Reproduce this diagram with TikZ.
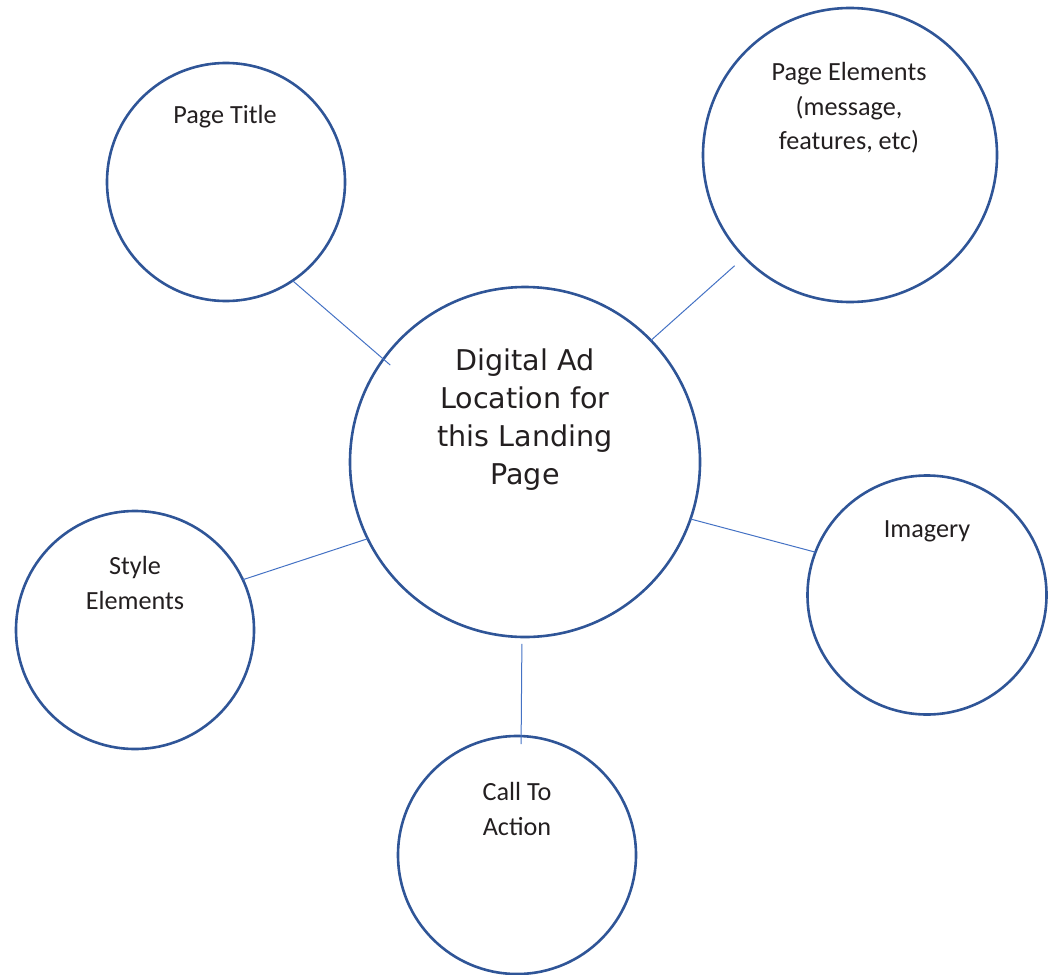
\documentclass[tikz,border=0pt]{standalone}
\usepackage{fontspec}
\setmainfont{Carlito}
\newfontfamily\dvfont{DejaVu Sans}
\definecolor{ringblue}{HTML}{2F5597}
\definecolor{linkblue}{HTML}{4472C4}
\definecolor{txtgray}{HTML}{231F20}
\begin{document}
\begin{tikzpicture}[x=1pt,y=-1pt,
  ring/.style={circle,draw=ringblue,line width=2.6pt,inner sep=0pt,outer sep=0pt,minimum size=#1},
  link/.style={draw=linkblue,line width=1pt},
  smalltext/.style={align=center,text=txtgray,font=\fontsize{26.2}{34.5}\selectfont,inner sep=0pt},
  bigtext/.style={align=center,text=txtgray,font=\dvfont\fontsize{28.6}{38}\selectfont,inner sep=0pt}]
\path[use as bounding box] (0,0) rectangle (1051,974);
% circles
\node[ring=350pt] (c) at (525,462) {};
\node[ring=238pt] (pt) at (226,182) {};
\node[ring=294pt] (pe) at (850,155) {};
\node[ring=239pt] (im) at (927,595) {};
\node[ring=238pt] (se) at (135,630) {};
\node[ring=238pt] (ca) at (517,855) {};
% texts
\node[bigtext] (tc) at (525,420) {Digital Ad\\Location for\\this Landing\\Page};
\node[smalltext] (tpt) at (225,117) {Page Title};
\node[smalltext] (tpe) at (849,108) {Page Elements\\(message,\\features, etc)};
\node[smalltext] (tim) at (927,531) {Imagery};
\node[smalltext] (tse) at (135,583) {Style\\Elements};
\node[smalltext] (tca) at (517,809) {Call To\\Action};
% connectors
\draw[link,shorten >=-9pt] (pt.-56) -- (c.144);
\draw[link,shorten <=13pt] (pe.224.7) -- (c.44);
\draw[link] (se.25.3) -- (c.206);
\draw[link] (c.-19.8) -- (im.159.6);
\draw[link,shorten <=7pt,shorten >=-8pt] (c.-91.9) -- (ca.88);
\end{tikzpicture}
\end{document}
